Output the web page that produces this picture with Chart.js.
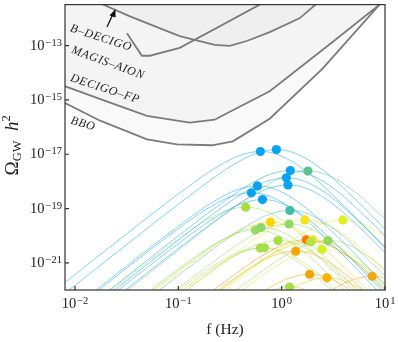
<!DOCTYPE html>
<html>
<head>
<meta charset="utf-8">
<script src="https://cdn.jsdelivr.net/npm/chart.js@4.4.1/dist/chart.umd.min.js"></script>
<style>
  html, body { margin: 0; padding: 0; background: #fff; }
</style>
</head>
<body>
<canvas id="omega" width="398" height="342"></canvas>
<script>
// axis ticks
const xTicks = [0.01, 0.1, 1, 10];
const yTicks = [1e-21, 1e-19, 1e-17, 1e-15, 1e-13];

// detector sensitivity curves (f in Hz, Omega_GW h^2)
const bDecigoFreq  = [0.0156, 0.0187, 0.034, 0.103, 0.225, 0.315, 0.459, 0.766, 1.49, 2.13, 2.6];
const bDecigoOmega = [6.3e-12, 3.24e-12, 1.19e-12, 2.24e-13, 1.06e-13, 9.8e-14, 1.48e-13, 3.13e-13, 1.01e-12, 3.24e-12, 5.4e-12];

const magisFreq  = [0.0318, 0.0444, 0.0531, 0.103, 0.252, 0.612, 0.766];
const magisOmega = [2.88e-13, 4.24e-14, 4.24e-14, 8.3e-14, 5.2e-13, 3.24e-12, 5.3e-12];

const decigoFpFreq  = [0.0075, 0.0187, 0.0497, 0.129, 0.225, 0.315, 0.766, 3.11, 8.85, 11.0];
const decigoFpOmega = [3.5e-15, 9.9e-16, 2.61e-16, 1.46e-16, 1.87e-16, 3.65e-16, 2.1e-15, 1.36e-13, 3.24e-12, 6.4e-12];

const bboFreq  = [0.0075, 0.0175, 0.0497, 0.0968, 0.211, 0.337, 0.766, 2.49, 8.85, 11.0];
const bboOmega = [8.7e-16, 1.72e-16, 3.52e-17, 2.32e-17, 2.14e-17, 2.99e-17, 2.03e-16, 1.43e-14, 3.24e-12, 8.4e-12];

// peaks of the spectra (dots)
const peakFreq = [0.622, 0.889, 1.213, 1.795, 1.109, 0.582, 1.151, 0.509, 0.652, 0.449,
                  1.202, 0.778, 1.178, 1.679, 3.91, 0.557, 0.631, 0.921, 1.73, 2.0,
                  1.905, 2.8, 0.622, 0.681, 1.365, 2.45, 1.866, 2.74, 7.52, 1.194];
const peakOmega = [1.26e-17, 1.48e-17, 2.51e-18, 2.4e-18, 1.35e-18, 6.8e-19, 7.4e-19, 3.8e-19, 2.14e-19, 1.12e-19,
                   8.5e-20, 3.16e-20, 2.69e-20, 3.8e-20, 3.8e-20, 1.62e-20, 2.0e-20, 6.6e-21, 7.1e-21, 7.1e-21,
                   5.9e-21, 6.6e-21, 3.5e-21, 3.6e-21, 2.7e-21, 3.1e-21, 3.8e-22, 2.8e-22, 3.2e-22, 1.29e-22];
const peakColors = ['#0aa3f0', '#0aa3f0', '#0aa3f0', '#5cc28c', '#0aa3f0', '#0aa3f0', '#0aa3f0', '#0aa3f0', '#0aa3f0', '#a6e03c',
                    '#3fbfa6', '#ffd500', '#8fd866', '#f3e51c', '#e3f01e', '#96da5e', '#8cd86a', '#a5de45', '#ff7a00', '#f2e62c',
                    '#b4e34a', '#94d45a', '#a6df4a', '#a6df4a', '#ffa300', '#d6ee24', '#f4a200', '#ffb200', '#eaa81c', '#a2e043'];

// spectral shape: decades from peak -> decades below peak
const shapeDecades = [-3, -2.5, -2, -1.5, -1.25, -1, -0.75, -0.5, -0.375, -0.25, -0.125, 0, 0.125, 0.25, 0.375, 0.5, 0.75, 1, 1.25, 1.5, 2];
const shapeDrop    = [-8.15, -6.65, -5.15, -3.65, -2.9, -2.16, -1.44, -0.76, -0.47, -0.22, -0.06, 0, -0.06, -0.25, -0.54, -0.9, -1.78, -2.73, -3.72, -4.71, -6.71];

const serif = '"Liberation Serif", "DejaVu Serif", serif';

function toPts(fs, ys) {
    return fs.map((f, i) => ({ x: f, y: ys[i] }));
}

function alpha(hex, a) {
    const n = parseInt(hex.slice(1), 16);
    return `rgba(${(n >> 16) & 255}, ${(n >> 8) & 255}, ${n & 255}, ${a})`;
}

const datasets = [];

// dots on top
datasets.push({
    type: 'scatter',
    data: toPts(peakFreq, peakOmega),
    backgroundColor: peakColors,
    borderWidth: 0,
    pointRadius: 4.6,
    order: 0
});

// one spectrum per peak
peakFreq.forEach((f, i) => {
    datasets.push({
        data: shapeDecades.map((d, k) => ({ x: f * Math.pow(10, d), y: peakOmega[i] * Math.pow(10, shapeDrop[k]) })),
        borderColor: alpha(peakColors[i], 0.5),
        borderWidth: 1,
        pointRadius: 0,
        tension: 0.35,
        fill: false,
        order: 2
    });
});

// detectors
const detectors = [
    [bDecigoFreq, bDecigoOmega, true],
    [magisFreq, magisOmega, false],
    [decigoFpFreq, decigoFpOmega, true],
    [bboFreq, bboOmega, true]
];
detectors.forEach(([fs, ys, filled]) => {
    datasets.push({
        data: toPts(fs, ys),
        borderColor: '#7b7b7b',
        borderWidth: 1.8,
        backgroundColor: 'rgba(0, 0, 0, 0.024)',
        fill: filled ? 'end' : false,
        pointRadius: 0,
        tension: 0,
        order: 5
    });
});

// "10^n" label drawn with a raised exponent
function powLabel(ctx, exp, x, y, align) {
    const sup = exp < 0 ? '\u2212' + Math.abs(exp) : String(exp);
    ctx.font = '14.5px ' + serif;
    const wb = ctx.measureText('10').width;
    ctx.font = '10.5px ' + serif;
    const ws = ctx.measureText(sup).width;
    let x0 = align === 'right' ? x - wb - ws - 1 : x - (wb + ws + 1) / 2;
    ctx.textAlign = 'left';
    ctx.textBaseline = 'alphabetic';
    ctx.font = '14.5px ' + serif;
    ctx.fillText('10', x0, y + 4);
    ctx.font = '10.5px ' + serif;
    ctx.fillText(sup, x0 + wb + 1, y);
}

const decor = {
    id: 'decor',
    afterDatasetsDraw(chart) {
        const { ctx, chartArea: a, scales: { x, y } } = chart;
        ctx.save();
        ctx.strokeStyle = '#333';
        ctx.lineWidth = 1.2;
        ctx.strokeRect(a.left, a.top, a.right - a.left, a.bottom - a.top);

        // inward tick marks
        ctx.beginPath();
        x.ticks.forEach(t => {
            const px = x.getPixelForValue(t.value);
            ctx.moveTo(px, a.bottom);
            ctx.lineTo(px, a.bottom - 4);
        });
        y.ticks.forEach(t => {
            const py = y.getPixelForValue(t.value);
            ctx.moveTo(a.left, py);
            ctx.lineTo(a.left + 4, py);
        });
        ctx.stroke();

        ctx.fillStyle = '#222';
        x.ticks.forEach(t => powLabel(ctx, Math.round(Math.log10(t.value)), x.getPixelForValue(t.value), a.bottom + 14, 'center'));
        y.ticks.forEach(t => powLabel(ctx, Math.round(Math.log10(t.value)), a.left - 3, y.getPixelForValue(t.value), 'right'));

        // x title
        ctx.font = '15.5px ' + serif;
        ctx.textAlign = 'center';
        ctx.textBaseline = 'middle';
        ctx.fillText('f (Hz)', (a.left + a.right) / 2, 330);

        // y title
        ctx.save();
        ctx.translate(18, (a.top + a.bottom) / 2 - 2);
        ctx.rotate(-Math.PI / 2);
        const parts = [
            ['\u03A9', '19px ' + serif, 0],
            ['GW', '12.5px ' + serif, 3],
            ['\u2002', '19px ' + serif, 0],
            ['h', 'italic 19px ' + serif, 0],
            ['2', '12.5px ' + serif, -8]
        ];
        let total = 0;
        parts.forEach(p => { ctx.font = p[1]; total += ctx.measureText(p[0]).width; });
        let cx = -total / 2;
        ctx.textAlign = 'left';
        ctx.textBaseline = 'alphabetic';
        parts.forEach(p => {
            ctx.font = p[1];
            ctx.fillText(p[0], cx, p[2]);
            cx += ctx.measureText(p[0]).width;
        });
        ctx.restore();

        // detector names
        const names = [['B\u2013DECIGO', 101, 38, 18], ['MAGIS\u2013AION', 108, 63, 20], ['DECIGO\u2013FP', 105, 89, 18], ['BBO', 83, 124, 16]];
        ctx.font = 'italic 12px ' + serif;
        ctx.letterSpacing = '0.7px';
        ctx.textAlign = 'center';
        ctx.textBaseline = 'middle';
        ctx.fillStyle = '#222';
        names.forEach(([txt, px, py, ang]) => {
            ctx.save();
            ctx.translate(px, py);
            ctx.rotate(ang * Math.PI / 180);
            ctx.fillText(txt, 0, 0);
            ctx.restore();
        });
        ctx.letterSpacing = '0px';

        // arrow to B-DECIGO
        ctx.strokeStyle = '#111';
        ctx.lineWidth = 1.3;
        ctx.beginPath();
        ctx.moveTo(107, 27);
        ctx.lineTo(113, 14);
        ctx.stroke();
        ctx.beginPath();
        ctx.moveTo(115.5, 9);
        ctx.lineTo(109.5, 15.5);
        ctx.lineTo(115.5, 17.5);
        ctx.closePath();
        ctx.fillStyle = '#111';
        ctx.fill();
        ctx.restore();
    }
};

new Chart(document.getElementById('omega'), {
    type: 'line',
    data: { datasets: datasets },
    options: {
        responsive: false,
        animation: false,
        devicePixelRatio: 1,
        layout: { padding: { top: 1, right: 13, left: 0, bottom: 0 } },
        plugins: { legend: { display: false }, tooltip: { enabled: false } },
        scales: {
            x: {
                type: 'logarithmic',
                min: 0.008,
                max: 10,
                grid: { display: false },
                border: { display: false },
                ticks: { display: false },
                afterBuildTicks: s => { s.ticks = xTicks.map(v => ({ value: v })); },
                afterFit: s => { s.height = 52; }
            },
            y: {
                type: 'logarithmic',
                min: 1e-22,
                max: 3.24e-12,
                grid: { display: false },
                border: { display: false },
                ticks: { display: false },
                afterBuildTicks: s => { s.ticks = yTicks.map(v => ({ value: v })); },
                afterFit: s => { s.width = 65; }
            }
        }
    },
    plugins: [decor]
});
</script>
</body>
</html>
